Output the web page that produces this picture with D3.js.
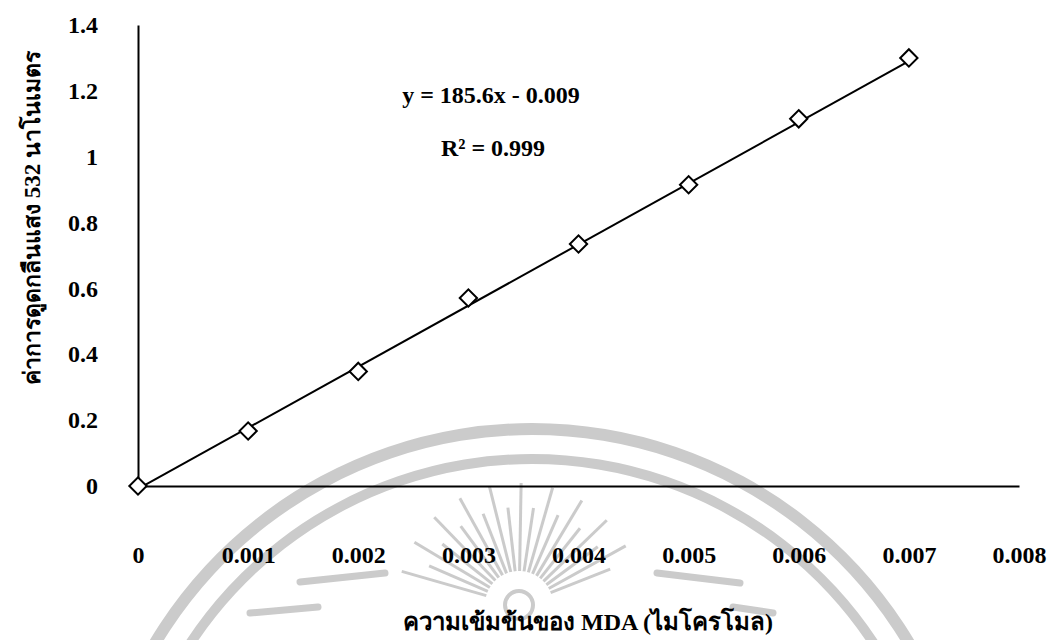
<!DOCTYPE html>
<html>
<head>
<meta charset="utf-8">
<script src="https://cdn.jsdelivr.net/npm/d3@7"></script>
<style>
  html, body { margin: 0; padding: 0; background: #fff; }
  svg { display: block; }
  .num { font-family: "Liberation Serif", "Times New Roman", serif; font-weight: bold; fill: #000; }
  .thai { font-family: "Liberation Serif", "Noto Sans", "DejaVu Sans", serif; font-weight: bold; fill: #000; }
</style>
</head>
<body>
<svg id="chart" width="1052" height="640"></svg>
<script>
// MDA standard curve: absorbance at 532 nm against MDA concentration
const concentration = [0, 0.001, 0.002, 0.003, 0.004, 0.005, 0.006, 0.007];
const absorbance    = [0, 0.167, 0.348, 0.571, 0.735, 0.915, 1.115, 1.300];

// Linear fit shown on the chart
const slope = 185.6;
const intercept = -0.009;
const rSquared = 0.999;

const xTicks = [0, 0.001, 0.002, 0.003, 0.004, 0.005, 0.006, 0.007, 0.008];
const yTicks = [0, 0.2, 0.4, 0.6, 0.8, 1, 1.2, 1.4];

const xTitle = "ความเข้มข้นของ MDA (ไมโครโมล)";
const yTitle = "ค่าการดูดกลืนแสง 532 นาโนเมตร";

const svg = d3.select("#chart");
const plotLeft = 138, plotRight = 1019, plotTop = 25, plotBottom = 486;

const x = d3.scaleLinear().domain([0, 0.008]).range([plotLeft, plotRight]);
const y = d3.scaleLinear().domain([0, 1.4]).range([plotBottom, plotTop]);

// Faint emblem watermark behind the plot
const wmColor = "#cbcbcb";
const wm = svg.append("g").attr("fill", "none").attr("stroke", wmColor);
const cx = 532, cy = 868;
const arc = d3.arc();
[[433, 445], [404, 414]].forEach(([r0, r1]) => {
  wm.append("path")
    .attr("transform", `translate(${cx},${cy})`)
    .attr("d", arc({innerRadius: r0, outerRadius: r1, startAngle: -Math.PI * 0.42, endAngle: Math.PI * 0.42}))
    .attr("fill", wmColor).attr("stroke", "none");
});
const sun = [519, 605];
const rayAngles = d3.range(-164, -14, 7.5);
wm.selectAll("line.ray").data(rayAngles).join("line")
  .attr("class", "ray")
  .attr("x1", a => sun[0] + 34 * Math.cos(a * Math.PI / 180))
  .attr("y1", a => sun[1] + 34 * Math.sin(a * Math.PI / 180))
  .attr("x2", (a, i) => sun[0] + (i % 2 ? 98 : 122) * Math.cos(a * Math.PI / 180))
  .attr("y2", (a, i) => sun[1] + (i % 2 ? 98 : 122) * Math.sin(a * Math.PI / 180))
  .attr("stroke-width", 3);
wm.append("circle").attr("cx", sun[0]).attr("cy", sun[1]).attr("r", 14).attr("stroke-width", 4);
const bars = [[300, 582, 385, 573], [250, 613, 318, 607], [657, 573, 740, 583], [733, 607, 773, 613]];
wm.selectAll("line.bar").data(bars).join("line")
  .attr("class", "bar")
  .attr("x1", d => d[0]).attr("y1", d => d[1]).attr("x2", d => d[2]).attr("y2", d => d[3])
  .attr("stroke-width", 7).attr("stroke-linecap", "round");

// Axes
const fmtX = d => d === 0 ? "0" : d3.format(".3f")(d);
const fmtY = d => String(+d.toFixed(1));

const xAxis = svg.append("g")
  .attr("transform", `translate(0,${plotBottom})`)
  .call(d3.axisBottom(x).tickValues(xTicks).tickFormat(fmtX).tickSize(0).tickSizeOuter(0).tickPadding(60));
const yAxis = svg.append("g")
  .attr("transform", `translate(${plotLeft},0)`)
  .call(d3.axisLeft(y).tickValues(yTicks).tickFormat(fmtY).tickSize(0).tickSizeOuter(0).tickPadding(40));

[xAxis, yAxis].forEach(g => {
  g.select(".domain").attr("stroke", "#000").attr("stroke-width", 2);
  g.selectAll("text").attr("class", "num").attr("font-size", 24);
});

// Trend line from the fitted equation
const xFit = [0, 0.007];
svg.append("line")
  .attr("x1", x(xFit[0])).attr("y1", y(slope * xFit[0] + intercept))
  .attr("x2", x(xFit[1])).attr("y2", y(slope * xFit[1] + intercept))
  .attr("stroke", "#000").attr("stroke-width", 2);

// Diamond markers
const points = concentration.map((c, i) => ({c, a: absorbance[i]}));
svg.selectAll("path.pt").data(points).join("path")
  .attr("class", "pt")
  .attr("d", d3.symbol(d3.symbolSquare, 150))
  .attr("transform", d => `translate(${x(d.c)},${y(d.a)}) rotate(45)`)
  .attr("fill", "#fff").attr("stroke", "#000").attr("stroke-width", 2);

// Equation and R²
svg.append("text").attr("class", "num").attr("font-size", 24)
  .attr("x", 491).attr("y", 103).attr("text-anchor", "middle")
  .text(`y = ${slope}x - ${Math.abs(intercept)}`);
svg.append("text").attr("class", "num").attr("font-size", 24)
  .attr("x", 493).attr("y", 156).attr("text-anchor", "middle")
  .text(`R² = ${rSquared}`);

// Axis titles
svg.append("text").attr("class", "thai").attr("font-size", 24)
  .attr("x", 588).attr("y", 630).attr("text-anchor", "middle")
  .text(xTitle);
svg.append("text").attr("class", "thai").attr("font-size", 23)
  .attr("transform", "translate(40,218) rotate(-90)")
  .attr("text-anchor", "middle")
  .text(yTitle);
</script>
</body>
</html>
